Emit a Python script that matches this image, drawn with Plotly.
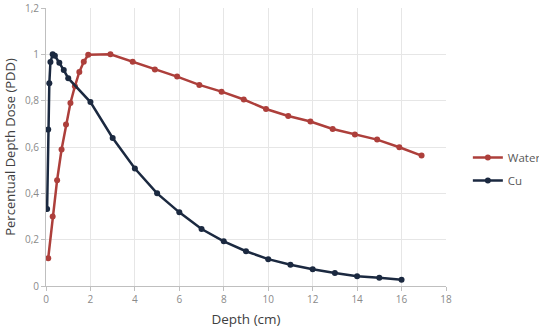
import plotly.graph_objects as go

water_depth = [0.1, 0.3, 0.5, 0.7, 0.9, 1.1, 1.3, 1.5, 1.7, 1.9, 2.9, 3.9, 4.9, 5.9, 6.9,
               7.9, 8.9, 9.9, 10.9, 11.9, 12.9, 13.9, 14.9, 15.9, 16.9]
water_pdd = [0.12, 0.30, 0.457, 0.589, 0.697, 0.79, 0.862, 0.924, 0.968, 0.998, 1.0, 0.968,
             0.935, 0.904, 0.868, 0.839, 0.805, 0.764, 0.734, 0.71, 0.678, 0.654, 0.632,
             0.599, 0.563]

cu_depth = [0.05, 0.1, 0.15, 0.2, 0.3, 0.4, 0.6, 0.8, 1.0, 2, 3, 4, 5, 6, 7, 8, 9, 10,
            11, 12, 13, 14, 15, 16]
cu_pdd = [0.332, 0.675, 0.875, 0.967, 1.0, 0.994, 0.964, 0.932, 0.897, 0.794, 0.639, 0.507,
          0.4, 0.318, 0.246, 0.193, 0.15, 0.116, 0.092, 0.072, 0.056, 0.042, 0.036, 0.027]

x_ticks = [0, 2, 4, 6, 8, 10, 12, 14, 16, 18]
y_ticks = [0, 0.2, 0.4, 0.6, 0.8, 1, 1.2]
y_ticktext = ["0", "0,2", "0,4", "0,6", "0,8", "1", "1,2"]

RED = "#ad3f3b"
NAVY = "#1b2940"

fig = go.Figure()
fig.add_trace(go.Scatter(x=water_depth, y=water_pdd, mode="lines+markers", name="Water",
                         legendgroup="water",
                         line=dict(color=RED, width=2.5),
                         marker=dict(color=RED, size=6)))
fig.add_trace(go.Scatter(x=cu_depth, y=cu_pdd, mode="lines+markers", name="Cu",
                         legendgroup="cu",
                         line=dict(color=NAVY, width=2.5),
                         marker=dict(color=NAVY, size=6)))

axis_common = dict(showgrid=True, gridcolor="#e6e6e6", gridwidth=1, zeroline=False,
                   showline=True, linecolor="#bfbfbf", linewidth=1,
                   ticks="outside", ticklen=4, tickcolor="#bfbfbf", automargin=False,
                   tickfont=dict(family="Open Sans", size=10, color="#8a8a8a"))

fig.update_xaxes(range=[0, 18], tickvals=x_ticks,
                 title=dict(text="Depth (cm)", font=dict(family="Open Sans", size=13.5, color="#404040"),
                            standoff=9),
                 **axis_common)
fig.update_yaxes(range=[0, 1.2], tickvals=y_ticks, ticktext=y_ticktext,
                 title=dict(text="Percentual Depth Dose (PDD)",
                            font=dict(family="Open Sans", size=13, color="#404040"), standoff=6),
                 **axis_common)

fig.update_layout(
    width=539, height=329,
    margin=dict(l=46, r=93, t=8, b=43, autoexpand=False),
    plot_bgcolor="white", paper_bgcolor="white",
    legend=dict(xref="container", yref="container", x=0.868, y=0.486,
                xanchor="left", yanchor="middle",
                font=dict(family="Open Sans", size=11.5, color="#595959"),
                bgcolor="rgba(0,0,0,0)", itemwidth=30, tracegroupgap=4),
)

fig.write_html("out.html")
